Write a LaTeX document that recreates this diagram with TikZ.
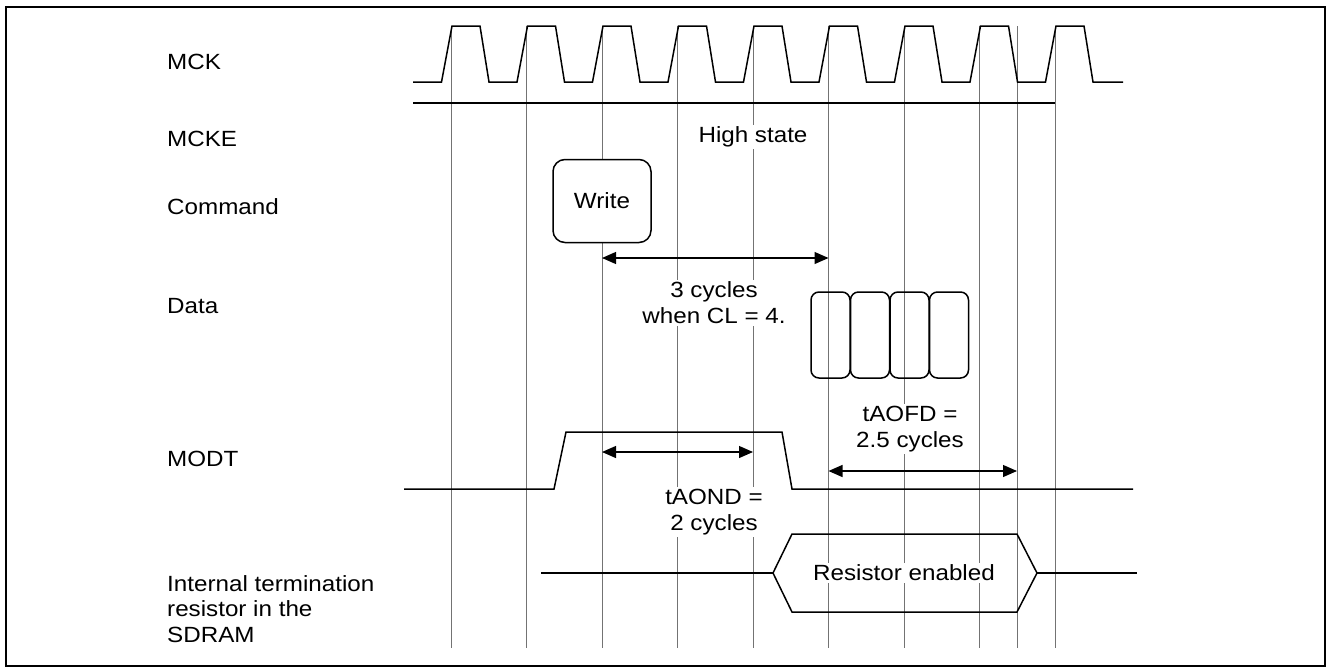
\documentclass[tikz,border=0pt]{standalone}
\usepackage{fontspec}
\setmainfont[FakeStretch=1.1]{Liberation Sans}
\usetikzlibrary{arrows.meta}
\begin{document}
\begin{tikzpicture}[x=1pt,y=-1pt,
  sig/.style={line width=1.5pt, line join=miter},
  gridline/.style={line width=0.9pt, draw=black!55},
  lbl/.style={anchor=west, inner sep=0pt, align=left, font=\fontsize{22}{25.5}\selectfont},
  txt/.style={fill=white, inner sep=2pt, align=center, font=\fontsize{22}{26}\selectfont},
  dimarrow/.style={line width=1.2pt, {Triangle[length=14pt,width=12pt]}-{Triangle[length=14pt,width=12pt]}},
  databox/.style={draw, line width=1.5pt, rounded corners=8pt, minimum width=39pt, minimum height=86pt, inner sep=0pt},
]
\useasboundingbox (0,0) rectangle (1326,672);
\draw[line width=2pt] (6,7) rectangle (1325,666);

% grid lines
\foreach \x in {451,526.5,602,677.5,753,828.5,904,979.5,1017,1055}
  \draw[gridline] (\x,26) -- (\x,648);

% labels
\node[lbl] (lmck) at (167,62) {MCK};
\node[lbl] (lmcke) at (167,139) {MCKE};
\node[lbl] (lcmd) at (167,207) {Command};
\node[lbl] (ldata) at (167,306) {Data};
\node[lbl] (lmodt) at (167,459) {MODT};
\node[lbl] (lres) at (167,609) {Internal termination\\resistor in the\\SDRAM};

% MCK
\draw[sig] (413,82) foreach \g in {451,526.5,602,677.5,753,828.5,904,979.5,1055} {
  -- ({\g-9.5},82) -- ({\g+1},26) -- ({\g+29},26) -- ({\g+38},82) } -- (1123,82);

% MCKE
\draw[sig] (413,103) -- (1055,103);
\node[txt] (high) at (753,137) {High state};

% Command
\node[draw, line width=1.5pt, rounded corners=12pt, fill=white, minimum width=98pt, minimum height=83pt, inner sep=0pt, font=\fontsize{22}{26}\selectfont] (write) at (602,201) {Write};

% 3 cycles
\coordinate (c3a) at (602,258);
\coordinate (c3b) at (828.5,258);
\draw[dimarrow] (c3a) -- (c3b);
\node[txt] (c3txt) at (714,303) {3 cycles\\when CL = 4.};

% Data
\node[databox] (d1) at (830.5,335) {};
\node[databox] (d2) at (870,335) {};
\node[databox] (d3) at (909.5,335) {};
\node[databox] (d4) at (949,335) {};

% MODT
\draw[sig] (404,489) -- (554,489) -- (566,432) -- (782,432) -- (792,489) -- (1133,489);
\coordinate (onA) at (602,452);
\coordinate (onB) at (753,452);
\draw[dimarrow] (onA) -- (onB);
\node[txt] (ontxt) at (714,512) {tAOND =\\2 cycles};
\coordinate (ofA) at (828.5,471);
\coordinate (ofB) at (1017,471);
\draw[dimarrow] (ofA) -- (ofB);
\node[txt] (oftxt) at (910,429) {tAOFD =\\2.5 cycles};

% Resistor
\draw[sig] (541,573) -- (773,573);
\draw[sig] (773,573) -- (792,534) -- (1017,534) -- (1037,573) -- (1017,612) -- (792,612) -- cycle;
\draw[sig] (1037,573) -- (1137,573);
\node[txt] (restxt) at (904,573) {Resistor enabled};
\end{tikzpicture}
\end{document}
